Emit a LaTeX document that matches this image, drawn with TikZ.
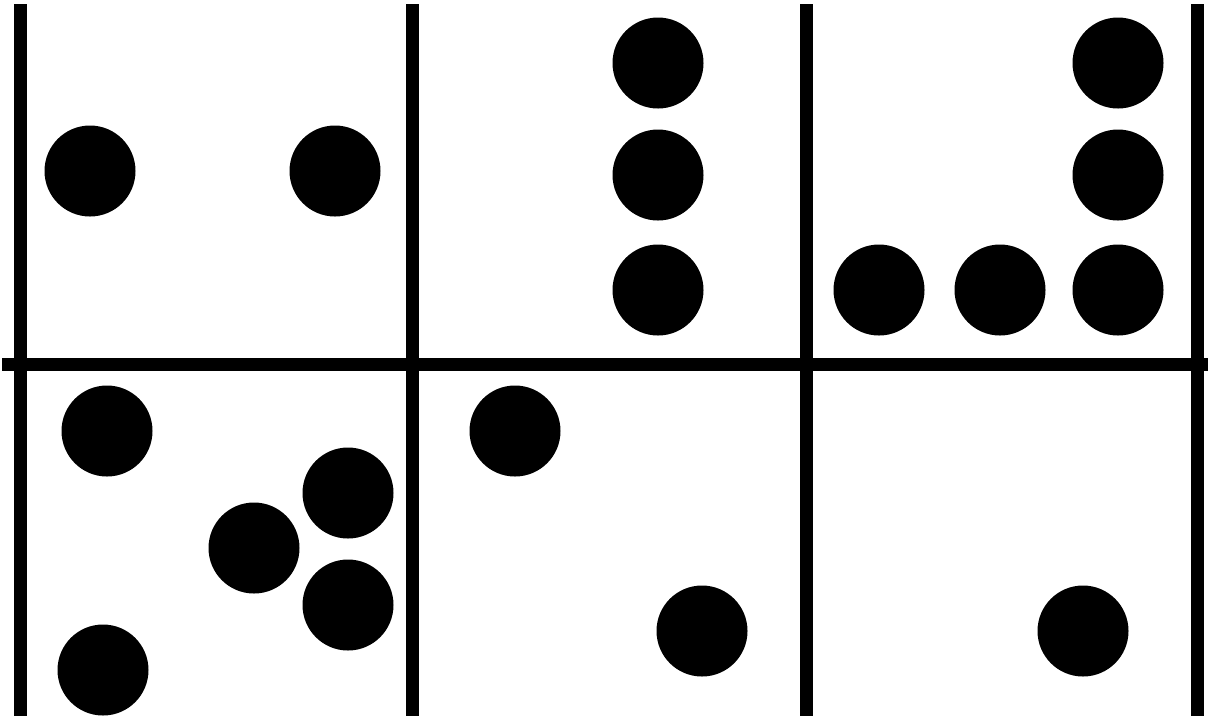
\documentclass[tikz,border=0pt]{standalone}
\begin{document}
\begin{tikzpicture}[x=0.5pt,y=-0.5pt,
  dot/.style={circle,fill=black,draw=none,inner sep=0pt,minimum size=45.5pt},
  gridline/.style={line width=6.5pt,black}]
\useasboundingbox (0,0) rectangle (1208,720);
% grid coordinates
\coordinate (v1t) at (20,4);   \coordinate (v1b) at (20,716);
\coordinate (v2t) at (412,4);  \coordinate (v2b) at (412,716);
\coordinate (v3t) at (806,4);  \coordinate (v3b) at (806,716);
\coordinate (v4t) at (1197,4); \coordinate (v4b) at (1197,716);
\coordinate (hl) at (2,364);   \coordinate (hr) at (1208,364);
\draw[gridline] (v1t) -- (v1b);
\draw[gridline] (v2t) -- (v2b);
\draw[gridline] (v3t) -- (v3b);
\draw[gridline] (v4t) -- (v4b);
\draw[gridline] (hl) -- (hr);
% top-left
\node[dot] (a1) at (90,171) {};
\node[dot] (a2) at (335,171) {};
% top-middle
\node[dot] (b1) at (658,63) {};
\node[dot] (b2) at (658,175) {};
\node[dot] (b3) at (658,290) {};
% top-right
\node[dot] (c1) at (1118,63) {};
\node[dot] (c2) at (1118,175) {};
\node[dot] (c3) at (1118,290) {};
\node[dot] (c4) at (1000,290) {};
\node[dot] (c5) at (879,290) {};
% bottom-left
\node[dot] (d1) at (107,431) {};
\node[dot] (d2) at (348,493) {};
\node[dot] (d3) at (254,548) {};
\node[dot] (d4) at (348,605) {};
\node[dot] (d5) at (103,670) {};
% bottom-middle
\node[dot] (e1) at (515,431) {};
\node[dot] (e2) at (702,631) {};
% bottom-right
\node[dot] (f1) at (1083,631) {};
\end{tikzpicture}
\end{document}
